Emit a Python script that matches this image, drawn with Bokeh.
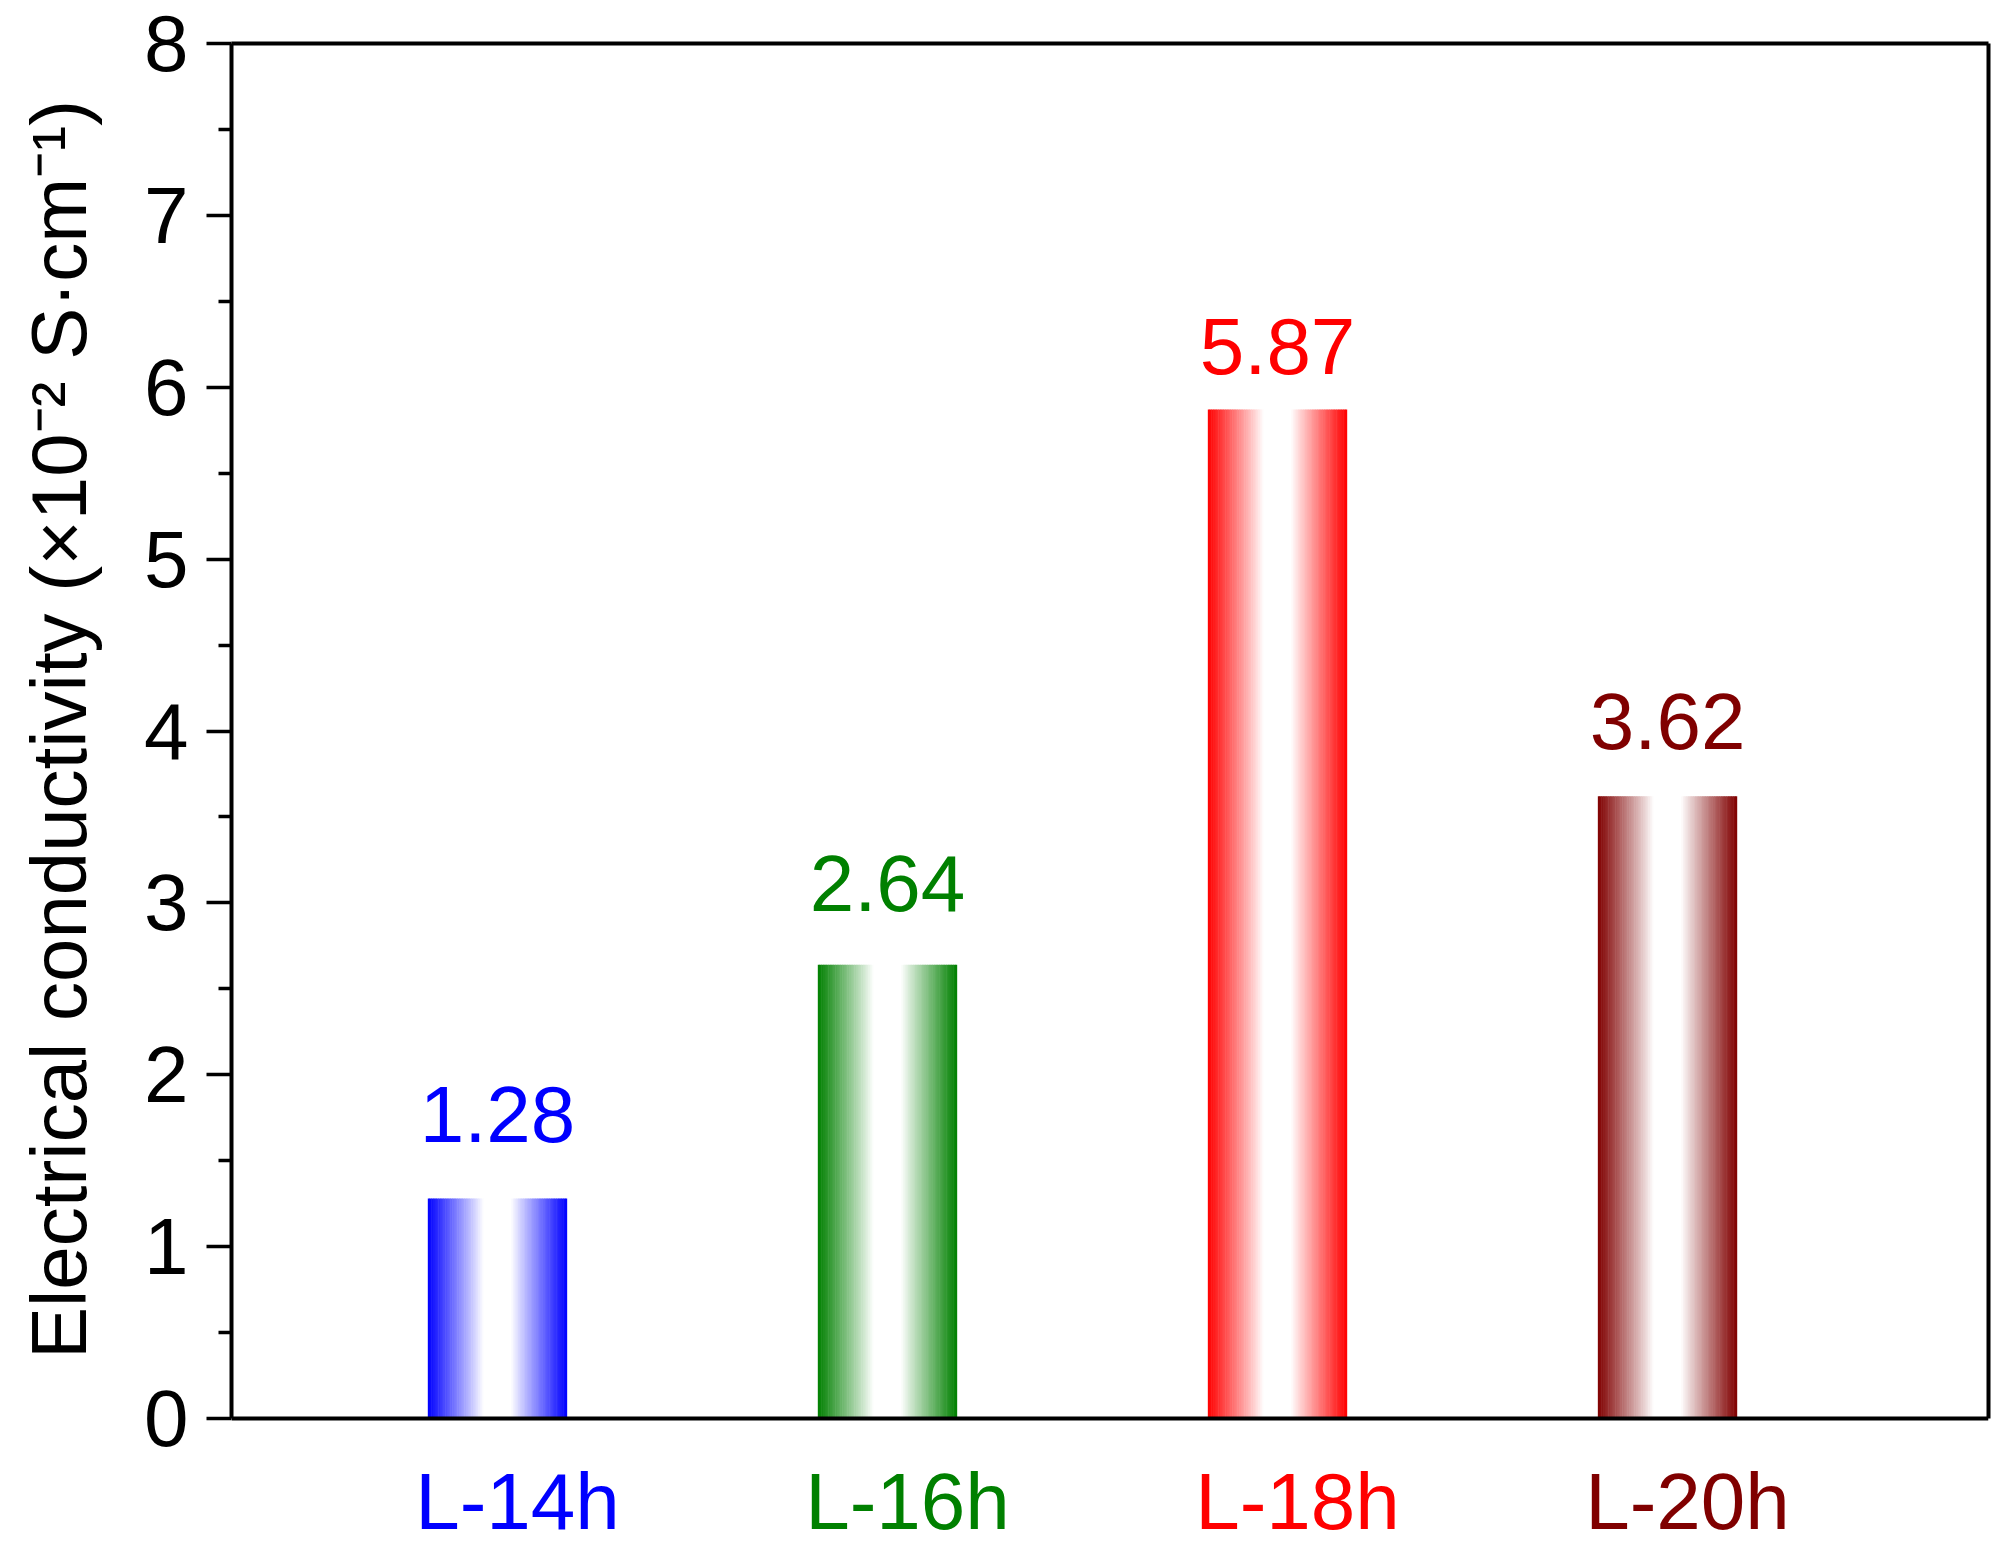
import numpy as np
from bokeh.plotting import figure
from bokeh.models import Range1d, FixedTicker, ColumnDataSource, LinearAxis, Span
from bokeh.core.properties import value
from bokeh.embed import file_html
from bokeh.resources import INLINE

# ---- data ----
samples = ["L-14h", "L-16h", "L-18h", "L-20h"]
conductivity = [1.28, 2.64, 5.87, 3.62]
bar_colors = ["#0000FF", "#008000", "#FF0000", "#800000"]
positions = [1, 2, 3, 4]
y_ticks = [0, 1, 2, 3, 4, 5, 6, 7, 8]
y_minor = [0.5, 1.5, 2.5, 3.5, 4.5, 5.5, 6.5, 7.5]
Y_MAX = 8
y_title = "Electrical conductivity (\u00d710\u207b\u00b2 S\u00b7cm\u207b\u00b9)"

# ---- style / layout ----
FONT = "Liberation Sans"
BAR_W = 0.356
N_SLICES = 80
label_lift_px = [-84, -81, -63, -75]   # screen offsets of the value labels
CAT_LABEL_DROP_PX = 83                 # category labels below the axis
AXIS_H_PX = 1375                       # height of the 0..8 part of the frame
PAD_BELOW_PX = 127                     # extra frame room for category labels
TITLE_PAD = "\u00a0" * 6               # re-centres the title on the 0..8 span
LW = 4

px_per_unit = AXIS_H_PX / Y_MAX
y_start = -PAD_BELOW_PX / px_per_unit


def hex_to_rgb(h):
    h = h.lstrip("#")
    return tuple(int(h[i:i + 2], 16) for i in (0, 2, 4))


p = figure(frame_width=1757, frame_height=AXIS_H_PX + PAD_BELOW_PX,
           x_range=Range1d(0.318, 4.823), y_range=Range1d(y_start, Y_MAX),
           output_backend="svg", toolbar_location=None,
           min_border_left=231, min_border_top=43,
           min_border_right=8, min_border_bottom=0)

p.xgrid.visible = False
p.ygrid.visible = False
p.xaxis.visible = False
p.outline_line_color = None

# gradient bars built from thin slices
xs, tops, widths, fills = [], [], [], []
for pos, val, col in zip(positions, conductivity, bar_colors):
    r, g, b = hex_to_rgb(col)
    for k in range(N_SLICES):
        u = (k + 0.5) / N_SLICES
        d = abs(u - 0.5) / 0.5
        inten = min(max((d - 0.2) / 0.8, 0.0), 1.0) ** 0.95
        rr = int(round(255 * (1 - inten) + r * inten))
        gg = int(round(255 * (1 - inten) + g * inten))
        bb = int(round(255 * (1 - inten) + b * inten))
        xs.append(pos + (u - 0.5) * BAR_W)
        tops.append(val)
        widths.append(BAR_W / N_SLICES * 1.3)
        fills.append("#%02x%02x%02x" % (rr, gg, bb))

src = ColumnDataSource(dict(x=xs, top=tops, w=widths, c=fills))
p.vbar(x="x", top="top", bottom=0, width="w", fill_color="c",
       line_color=None, source=src)

# bottom frame line at y = 0
p.add_layout(Span(location=0, dimension="width", line_color="black",
                  line_width=LW))

# value labels
vsrc = ColumnDataSource(dict(x=positions, y=conductivity,
                             t=[f"{v:.2f}" for v in conductivity],
                             c=bar_colors, off=label_lift_px))
p.text(x="x", y="y", text="t", text_color="c", source=vsrc,
       text_align="center", text_baseline="alphabetic", y_offset="off",
       text_font=value(FONT), text_font_size="80px")

# category labels below the axis
csrc = ColumnDataSource(dict(x=positions, y=[0] * len(positions),
                             t=samples, c=bar_colors))
p.text(x="x", y="y", text="t", text_color="c", source=csrc,
       text_align="center", text_baseline="middle",
       x_offset=20, y_offset=CAT_LABEL_DROP_PX,
       text_font=value(FONT), text_font_size="80px")

# left y axis
ya = p.yaxis[0]
ya.bounds = (0, Y_MAX)
ya.ticker = FixedTicker(ticks=y_ticks, minor_ticks=y_minor)
ya.major_label_text_font = FONT
ya.major_label_text_font_size = "80px"
ya.major_label_text_color = "black"
ya.major_label_standoff = 18
ya.major_tick_out = 25
ya.major_tick_in = 0
ya.minor_tick_out = 13
ya.minor_tick_in = 0
ya.major_tick_line_width = 3.5
ya.minor_tick_line_width = 3.5
ya.axis_line_width = LW
ya.axis_line_color = "black"
ya.axis_label = TITLE_PAD + y_title
ya.axis_label_text_font = FONT
ya.axis_label_text_font_size = "78px"
ya.axis_label_text_font_style = "normal"
ya.axis_label_text_color = "black"
ya.axis_label_standoff = 38

# right and top frame lines (plain axes without ticks)
ra = LinearAxis(bounds=(0, Y_MAX), ticker=FixedTicker(ticks=[]),
                major_tick_out=0, major_tick_in=0, minor_tick_out=0,
                minor_tick_in=0, axis_line_width=LW, axis_line_color="black",
                major_label_text_font_size="0px")
p.add_layout(ra, "right")
ta = LinearAxis(ticker=FixedTicker(ticks=[]),
                major_tick_out=0, major_tick_in=0, minor_tick_out=0,
                minor_tick_in=0, axis_line_width=LW, axis_line_color="black",
                major_label_text_font_size="0px")
p.add_layout(ta, "above")

open("out.html", "w").write(file_html(p, INLINE))
